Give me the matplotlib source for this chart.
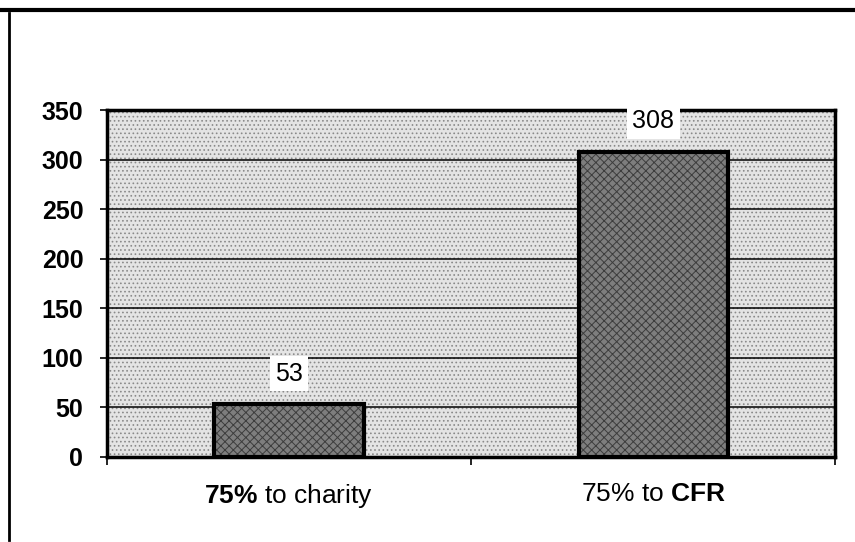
import matplotlib

matplotlib.use("Agg")
import matplotlib.pyplot as plt
from matplotlib.lines import Line2D

categories = [r"$\mathbf{75\%}$ to charity", r"75% to $\mathbf{CFR}$"]
values = [53, 308]
yticks = [0, 50, 100, 150, 200, 250, 300, 350]

plt.rcParams["font.family"] = ["Liberation Sans", "DejaVu Sans"]
plt.rcParams["mathtext.fontset"] = "custom"
plt.rcParams["mathtext.rm"] = "Liberation Sans"
plt.rcParams["mathtext.bf"] = "Liberation Sans:bold"
plt.rcParams["hatch.linewidth"] = 0.7

fig = plt.figure(figsize=(8.55, 5.42), dpi=100)
ax = fig.add_axes([0.125, 0.157, 0.852, 0.640])

# stippled plot background
ax.patch.set_facecolor("#e4e4e4")
ax.patch.set_edgecolor("#8a8a8a")
ax.patch.set_hatch("....")

x = list(range(len(values)))
ax.bar(x, values, width=0.41, color="#7e7e7e", edgecolor="#3d3d3d", hatch="xxxx", linewidth=0, zorder=3)
ax.bar(x, values, width=0.41, fill=False, edgecolor="black", linewidth=3, zorder=4)

for xi, v in zip(x, values):
    ax.annotate(str(v), (xi, v), xytext=(0, 22), textcoords="offset points",
                ha="center", va="center", fontsize=18, zorder=5,
                bbox=dict(facecolor="white", edgecolor="none", pad=4))

ax.set_xlim(-0.5, 1.5)
ax.set_ylim(0, 350)
ax.set_yticks(yticks)
ax.set_yticklabels([str(t) for t in yticks], fontsize=18, fontweight="bold")
ax.yaxis.grid(True, color="black", linewidth=1.1, zorder=2)
ax.set_axisbelow(True)

ax.set_xticks([-0.5, 0.5, 1.5])
ax.set_xticklabels([])
ax.set_xticks(x, minor=True)
ax.set_xticklabels(categories, minor=True, fontsize=19)
ax.tick_params(axis="x", which="minor", length=0, pad=18)
ax.tick_params(axis="x", which="major", length=6, width=1.2, direction="out")
ax.tick_params(axis="y", length=5, width=1.2, pad=12)

for s in ax.spines.values():
    s.set_linewidth(2.5)

# page frame lines from the scan
fig.add_artist(Line2D([0, 1], [0.982, 0.982], color="black", linewidth=3, transform=fig.transFigure))
fig.add_artist(Line2D([0.010, 0.010], [0.003, 0.976], color="black", linewidth=2, transform=fig.transFigure))

fig.savefig("out.png", dpi=100)
